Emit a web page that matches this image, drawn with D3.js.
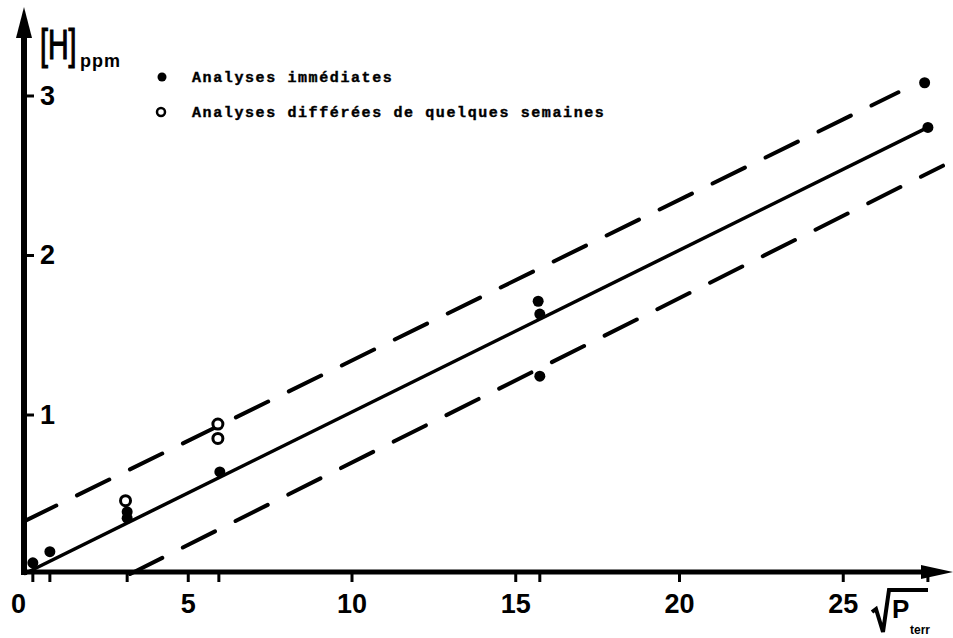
<!DOCTYPE html>
<html>
<head>
<meta charset="utf-8">
<style>
    body { margin: 0; background: #fff; }
    svg { display: block; }
    .tick text { font-family: "Liberation Sans", Arial, Helvetica, sans-serif; font-weight: bold; font-size: 27px; fill: #000; }
    .tick line { stroke: #000; stroke-width: 3px; }
    text.legend { font-family: "Liberation Mono", "DejaVu Sans Mono", monospace; font-weight: bold; font-size: 15px; letter-spacing: 1.6px; fill: #000; stroke: #000; stroke-width: 0.4px; }
</style>
</head>
<body>
<svg width="953" height="638" id="chart"></svg>
<script src="https://cdn.jsdelivr.net/npm/d3@7"></script>
<script>
// sqrt(P) ticks and H content (ppm)
var xTicks = [0, 5, 10, 15, 20, 25];
var yTicks = [1, 2, 3];
var sqrtPLevels = [0.27, 0.79, 3.15, 5.95, 15.75, 27.6];

// filled dots: immediate analyses
var immediateX = [0.27, 0.79, 3.15, 3.15, 5.98, 15.7, 15.75, 15.75, 27.5, 27.6];
var immediateY = [0.07, 0.14, 0.39, 0.35, 0.64, 1.71, 1.63, 1.24, 3.08, 2.80];

// open circles: analyses delayed by a few weeks
var deferredX = [3.1, 5.92, 5.92];
var deferredY = [0.46, 0.94, 0.85];

// fitted line and +/- band (dashed)
var fitLine = [[0, 0], [27.6, 2.80]];
var upperBand = [[0, 0.33], [26.7, 3.02]];
var lowerBand = [[3.24, 0], [28.06, 2.56]];

var legendLabels = ["Analyses immédiates", "Analyses différées de quelques semaines"];

var svg = d3.select("#chart");

var x = d3.scaleLinear().domain([0, 28.3]).range([24, 24 + 28.3 * 32.75]);
var y = d3.scaleLinear().domain([0, 3]).range([574, 95.5]);

var line = d3.line()
    .x(function(d) { return x(d[0]); })
    .y(function(d) { return y(d[1]); });

// axes lines with arrow heads
var x0 = x(0), y0 = y(0) - 2;
svg.append("line")
    .attr("x1", x0).attr("y1", y0 + 3).attr("x2", x0).attr("y2", 30)
    .attr("stroke", "#000").attr("stroke-width", 6);
svg.append("path")
    .attr("d", "M" + x0 + ",7 L" + (x0 - 8) + ",38 L" + (x0 + 8) + ",38 Z")
    .attr("fill", "#000");
svg.append("line")
    .attr("x1", x0 - 3).attr("y1", y0).attr("x2", 930).attr("y2", y0)
    .attr("stroke", "#000").attr("stroke-width", 5);
svg.append("path")
    .attr("d", "M953," + y0 + " L921," + (y0 - 7) + " L921," + (y0 + 7) + " Z")
    .attr("fill", "#000");

// x axis ticks and labels
var xAxis = svg.append("g")
    .attr("transform", "translate(0," + y0 + ")")
    .call(d3.axisBottom(x).tickValues(xTicks).tickSize(10).tickPadding(5).tickFormat(d3.format("d")));
xAxis.select(".domain").remove();
xAxis.selectAll(".tick text").attr("dy", "0.95em")
    .attr("dx", function(d) { return d === 0 ? -6 : 0; });
xAxis.selectAll(".tick line").filter(function(d) { return d === 0; }).remove();

// small ticks where measurements were made
svg.append("g").selectAll("line")
    .data(sqrtPLevels)
    .enter().append("line")
    .attr("x1", function(d) { return x(d); })
    .attr("x2", function(d) { return x(d); })
    .attr("y1", y0)
    .attr("y2", y0 + 10)
    .attr("stroke", "#000")
    .attr("stroke-width", 3);

// y axis ticks and labels
var yAxis = svg.append("g")
    .attr("transform", "translate(" + x0 + ",0)")
    .call(d3.axisRight(y).tickValues(yTicks).tickSize(10).tickPadding(6).tickFormat(d3.format("d")));
yAxis.select(".domain").remove();

// fitted line and dashed band
svg.append("path")
    .attr("d", line(fitLine))
    .attr("fill", "none").attr("stroke", "#000").attr("stroke-width", 3.5);
[upperBand, lowerBand].forEach(function(b) {
    svg.append("path")
        .attr("d", line(b))
        .attr("fill", "none")
        .attr("stroke", "#000")
        .attr("stroke-width", 4)
        .attr("stroke-linecap", "round")
        .attr("stroke-dasharray", "36,23");
});

// points
svg.append("g").selectAll("circle")
    .data(immediateX.map(function(v, i) { return [v, immediateY[i]]; }))
    .enter().append("circle")
    .attr("cx", function(d) { return x(d[0]); })
    .attr("cy", function(d) { return y(d[1]); })
    .attr("r", 5.5)
    .attr("fill", "#000");

svg.append("g").selectAll("circle")
    .data(deferredX.map(function(v, i) { return [v, deferredY[i]]; }))
    .enter().append("circle")
    .attr("cx", function(d) { return x(d[0]); })
    .attr("cy", function(d) { return y(d[1]); })
    .attr("r", 5)
    .attr("fill", "#fff")
    .attr("stroke", "#000")
    .attr("stroke-width", 3);

// axis titles
svg.append("text")
    .attr("transform", "translate(40,59) scale(0.68,1)")
    .attr("font-family", "Liberation Sans, Arial, sans-serif")
    .attr("font-size", 42)
    .attr("stroke", "#000").attr("stroke-width", 1.2)
    .text("[H]");
svg.append("text")
    .attr("x", 80).attr("y", 67)
    .attr("font-family", "Liberation Sans, Arial, sans-serif")
    .attr("font-weight", "bold")
    .attr("font-size", 18)
    .attr("letter-spacing", 1)
    .text("ppm");

// sqrt(P_terr)
svg.append("path")
    .attr("d", "M872,612 L876,609 L883,632 L889,590 L928,590")
    .attr("fill", "none").attr("stroke", "#000").attr("stroke-width", 4)
    .attr("stroke-linejoin", "miter");
svg.append("text")
    .attr("x", 892).attr("y", 618)
    .attr("font-family", "Liberation Sans, Arial, sans-serif")
    .attr("font-weight", "bold")
    .attr("font-size", 26)
    .text("P");
svg.append("text")
    .attr("x", 910).attr("y", 634)
    .attr("font-family", "Liberation Sans, Arial, sans-serif")
    .attr("font-weight", "bold")
    .attr("font-size", 12)
    .text("terr");

// legend
var legend = svg.append("g");
legend.append("circle").attr("cx", 162).attr("cy", 77).attr("r", 4.5).attr("fill", "#000");
legend.append("circle").attr("cx", 161).attr("cy", 112).attr("r", 4)
    .attr("fill", "#fff").attr("stroke", "#000").attr("stroke-width", 2.5);
legend.selectAll("text.legend")
    .data(legendLabels)
    .enter().append("text")
    .attr("class", "legend")
    .attr("x", 192)
    .attr("y", function(d, i) { return 82 + i * 35; })
    .text(function(d) { return d; });
</script>
</body>
</html>
